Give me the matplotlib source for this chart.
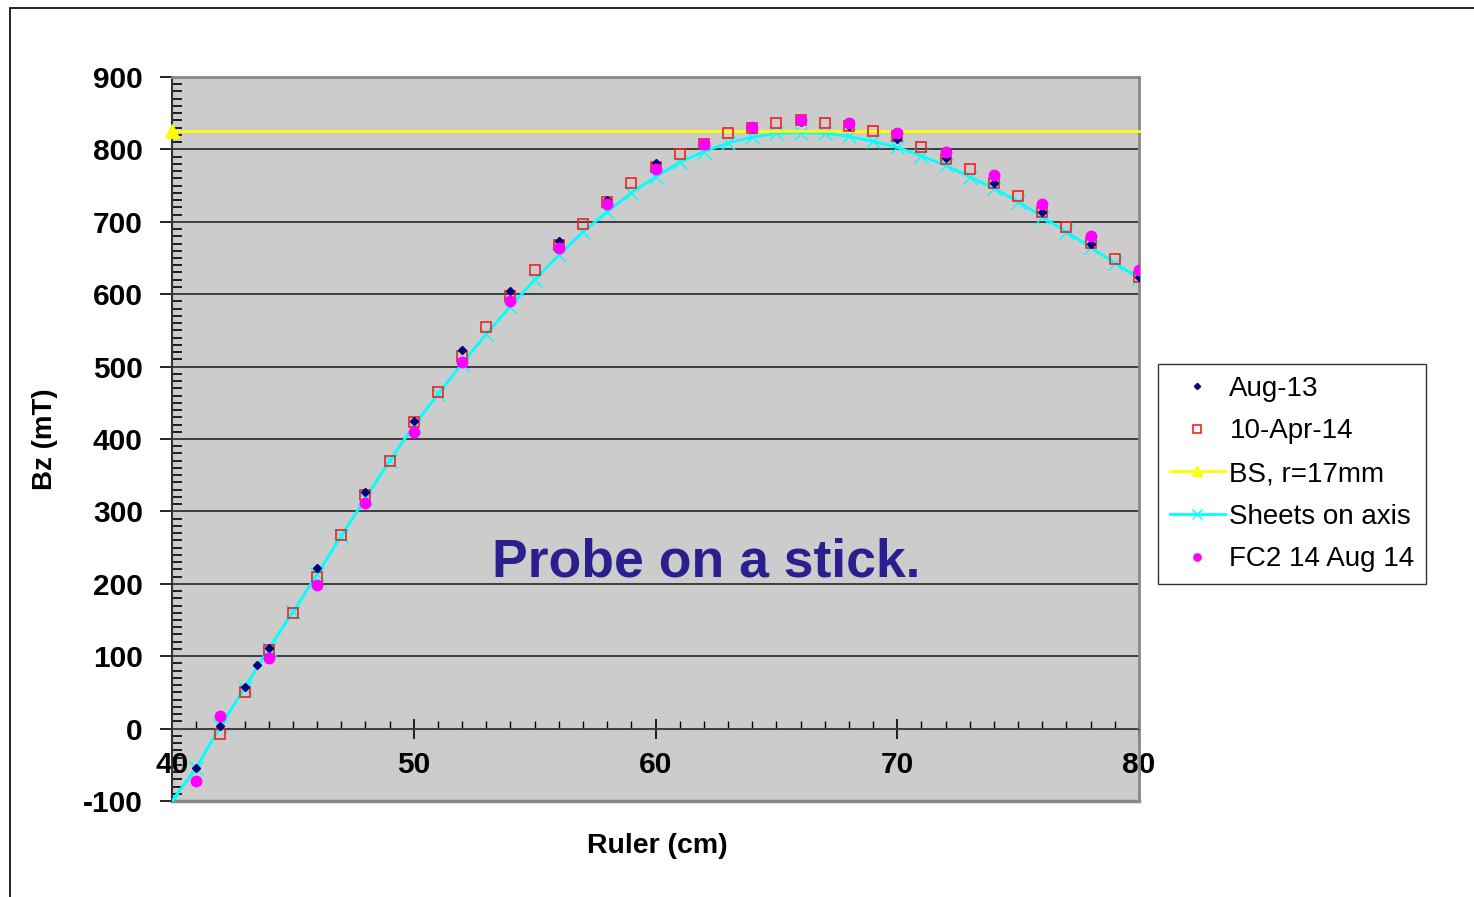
import matplotlib
matplotlib.use("Agg")
import matplotlib.pyplot as plt
from matplotlib.ticker import MultipleLocator
from matplotlib.patches import Rectangle

plt.rcParams['font.family'] = ['Liberation Sans', 'DejaVu Sans']
plt.rcParams['axes.unicode_minus'] = False

# Aug-13 (navy diamonds)
aug13_x = [41, 42, 43, 43.5, 44, 46, 48, 50, 52, 54, 56, 58, 60, 62, 64, 66, 68, 70, 72, 74, 76, 78, 80]
aug13_y = [-55, 3, 57, 88, 112, 222, 327, 425, 523, 605, 674, 730, 781, 809, 828, 838, 832, 815, 788, 754, 714, 670, 624]

# 10-Apr-14 (red open squares)
apr14_x = list(range(42, 81))
apr14_y = [-8, 51, 109, 159, 210, 268, 323, 369, 423, 465, 515, 555, 597, 634, 668, 697, 727, 754, 776, 794,
           808, 822, 830, 836, 840, 837, 832, 825, 818, 804, 787, 773, 754, 735, 714, 693, 671, 648, 624]

# BS, r=17mm (yellow)
bs_x = [40, 80]
bs_y = [825, 825]

# Sheets on axis (cyan)
sheets_x = list(range(40, 81))
sheets_y = [-100, -54, 3, 56, 110, 161, 213, 266, 318, 370, 418, 462, 504, 545, 583, 620, 654, 686, 714, 740,
            762, 782, 797, 809, 817, 822, 823, 822, 818, 811, 803, 791, 778, 762, 746, 728, 707, 686, 665, 643, 622]

# FC2 14 Aug 14 (magenta circles)
fc2_x = [41, 42, 44, 46, 48, 50, 52, 54, 56, 58, 60, 62, 64, 66, 68, 70, 72, 74, 76, 78, 80]
fc2_y = [-72, 18, 97, 199, 311, 409, 507, 591, 664, 724, 773, 808, 831, 840, 836, 822, 796, 765, 725, 681, 634]

fig = plt.figure(figsize=(14.74, 8.97), dpi=100)
ax = fig.add_axes([172 / 1474, 1 - 801 / 897, (1139 - 172) / 1474, (801 - 77) / 897])
ax.set_facecolor('#cccccc')

ax.plot(sheets_x, sheets_y, color='#00ffff', linewidth=2, marker='x', markersize=10,
        markeredgewidth=1, label='Sheets on axis', zorder=3)
ax.plot(bs_x, bs_y, color='#ffff00', linewidth=2, marker='^', markersize=10, markevery=[0],
        label='BS, r=17mm', zorder=3, clip_on=False)
ax.plot(apr14_x, apr14_y, linestyle='none', marker='s', markersize=7.5, markerfacecolor='none',
        markeredgecolor='#ee2222', markeredgewidth=1.2, label='10-Apr-14', zorder=4)
ax.plot(aug13_x, aug13_y, linestyle='none', marker='D', markersize=4.5, color='#000080',
        label='Aug-13', zorder=5)
ax.plot(fc2_x, fc2_y, linestyle='none', marker='o', markersize=7.5, color='#ff00ff',
        label='FC2 14 Aug 14', zorder=6)

ax.set_xlim(40, 80)
ax.set_ylim(-100, 900)

ax.xaxis.set_major_locator(MultipleLocator(10))
ax.xaxis.set_minor_locator(MultipleLocator(1))
ax.yaxis.set_major_locator(MultipleLocator(100))
ax.yaxis.set_minor_locator(MultipleLocator(10))

ax.spines['bottom'].set_position(('data', 0))
ax.spines['bottom'].set_color('#444444')
ax.spines['left'].set_color('#333333')
ax.spines['left'].set_linewidth(1.5)
for s in ['top', 'right']:
    ax.spines[s].set_color('#888888')
    ax.spines[s].set_linewidth(2)
ax.axhline(-100, color='#888888', linewidth=2.5, clip_on=False, zorder=1)

ax.grid(axis='y', which='major', color='#333333', linewidth=1.3)
ax.set_axisbelow(True)

ax.tick_params(axis='y', which='major', direction='out', length=9, width=1.2, pad=12,
               labelsize=21.5)
ax.tick_params(axis='y', which='minor', direction='in', length=7, width=1.2)
ax.tick_params(axis='x', which='major', direction='inout', length=14, width=1.2, pad=9,
               labelsize=21.5)
ax.tick_params(axis='x', which='minor', direction='in', length=6, width=1)
for lbl in ax.get_xticklabels() + ax.get_yticklabels():
    lbl.set_fontweight('bold')

ax.set_ylabel('Bz (mT)', fontsize=20, fontweight='bold', labelpad=18)
fig.text(657 / 1474, 1 - 846 / 897, 'Ruler (cm)', fontsize=20.5, fontweight='bold',
         ha='center', va='center')

ax.text(62.1, 230, 'Probe on a stick.', fontsize=38.5, fontweight='bold', color='#2a1f8c',
        ha='center', va='center')

handles, labels = ax.get_legend_handles_labels()
order = ['Aug-13', '10-Apr-14', 'BS, r=17mm', 'Sheets on axis', 'FC2 14 Aug 14']
hmap = dict(zip(labels, handles))
leg = fig.legend([hmap[k] for k in order], order, loc='upper left',
                 bbox_to_anchor=(1158 / 1474, 1 - 364 / 897), fontsize=20, frameon=True,
                 fancybox=False, edgecolor='black', handlelength=2.0, borderpad=0.42,
                 labelspacing=0.6, handletextpad=0.15, borderaxespad=0,
                 markerscale=0.7)
leg.get_frame().set_linewidth(1.0)

# outer frame of the slide chart
fig.patches.append(Rectangle((10 / 1474, -0.1), 1.2, 1.1 - 8 / 897, transform=fig.transFigure,
                             fill=False, edgecolor='black', linewidth=1.2))

fig.savefig('out.png', dpi=100)
